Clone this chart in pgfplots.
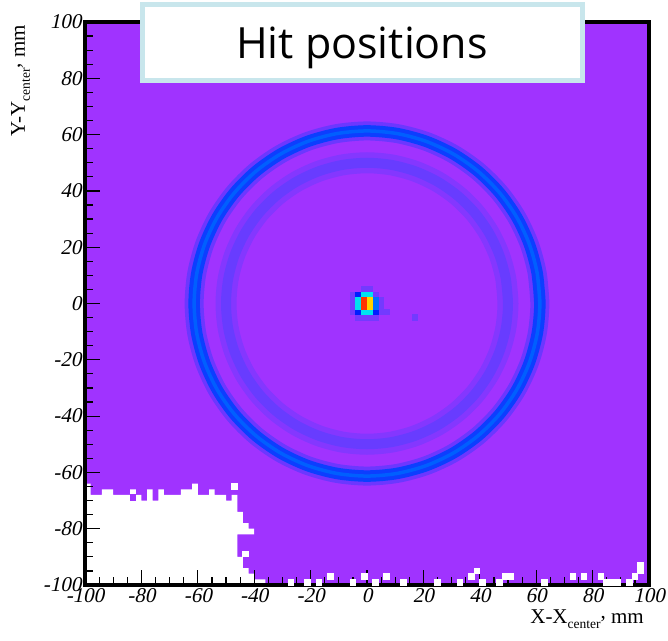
\documentclass[border=0pt]{standalone}
\usepackage{fontspec}
\setmainfont{Liberation Serif}
\newfontface\tickit{Liberation Serif}[FakeSlant=0.21]
\newfontfamily\titlefont{Open Sans}
\usepackage{pgfplots}
\usepackage{pgfplotstable}
\pgfplotsset{compat=1.18}
\definecolor{bgp}{RGB}{160,51,255}
\definecolor{ohalo}{RGB}{108,55,255}
\definecolor{ocore}{RGB}{12,62,255}
\definecolor{oline}{RGB}{0,95,255}
\definecolor{ihalo}{RGB}{132,55,255}
\definecolor{icore}{RGB}{104,60,255}
\definecolor{boxb}{RGB}{200,230,236}
\definecolor{sred}{RGB}{255,50,0}
\definecolor{syel}{RGB}{255,210,0}
\definecolor{scyan}{RGB}{0,225,240}
\definecolor{smid}{RGB}{0,110,255}
\definecolor{sdark}{RGB}{0,30,255}
\definecolor{sfaint}{RGB}{115,58,255}

\pgfplotstableread{
x y
61.30 0
60.37 10.64
57.60 20.97
53.09 30.65
46.96 39.40
39.40 46.96
30.65 53.09
20.97 57.60
10.64 60.37
0 61.30
-10.64 60.37
-20.97 57.60
-30.65 53.09
-39.40 46.96
-46.96 39.40
-53.09 30.65
-57.60 20.97
-60.37 10.64
-61.30 0
-60.37 -10.64
-57.60 -20.97
-53.09 -30.65
-46.96 -39.40
-39.40 -46.96
-30.65 -53.09
-20.97 -57.60
-10.64 -60.37
0 -61.30
10.64 -60.37
20.97 -57.60
30.65 -53.09
39.40 -46.96
46.96 -39.40
53.09 -30.65
57.60 -20.97
60.37 -10.64
61.30 0
60.37 10.64
}\outerring

\pgfplotstableread{
x y
50 0
49.24 8.68
46.98 17.10
43.30 25.00
38.30 32.14
32.14 38.30
25.00 43.30
17.10 46.98
8.68 49.24
0 50
-8.68 49.24
-17.10 46.98
-25.00 43.30
-32.14 38.30
-38.30 32.14
-43.30 25.00
-46.98 17.10
-49.24 8.68
-50 0
-49.24 -8.68
-46.98 -17.10
-43.30 -25.00
-38.30 -32.14
-32.14 -38.30
-25.00 -43.30
-17.10 -46.98
-8.68 -49.24
0 -50
8.68 -49.24
17.10 -46.98
25.00 -43.30
32.14 -38.30
38.30 -32.14
43.30 -25.00
46.98 -17.10
49.24 -8.68
50 0
49.24 8.68
}\innerring

\pgfplotstableread{
x y
-100 -100
-100 -64
-98 -64
-98 -68
-94 -68
-94 -66
-90 -66
-90 -68
-84 -68
-84 -66
-82 -66
-82 -68
-80 -68
-80 -70
-78 -70
-78 -66
-76 -66
-76 -70
-74 -70
-74 -66
-72 -66
-72 -68
-66 -68
-66 -66
-62 -66
-62 -64
-60 -64
-60 -68
-56 -68
-56 -66
-54 -66
-54 -68
-50 -68
-50 -70
-48 -70
-48 -68
-46 -68
-46 -74
-44 -74
-44 -78
-42 -78
-42 -80
-40 -80
-40 -82
-46 -82
-46 -90
-44 -90
-44 -94
-42 -94
-42 -96
-40 -96
-40 -98
-36 -98
-36 -100
-100 -100
}\whitereg

\pgfplotstableread{
x y
-47 -65
-43 -89
-27 -99
-21 -99
-17 -99
-13 -97
-5 -99
-1 -97
3 -99
7 -97
13 -99
25 -99
33 -99
37 -97
39 -95
41 -99
47 -99
49 -97
51 -97
63 -99
73 -97
77 -97
83 -97
85 -99
87 -99
89 -99
93 -99
95 -97
97 -93
97 -95
}\whitebins

\begin{document}
\begin{tikzpicture}
\begin{axis}[
  name=ax,
  scale only axis,
  width=564pt, height=563pt,
  xmin=-100, xmax=100, ymin=-100, ymax=100,
  axis background/.style={fill=bgp},
  axis on top,
  axis line style={line width=3.5pt, black},
  tick style={black, line width=1.2pt},
  major tick length=15pt,
  minor tick length=8pt,
  tick align=inside,
  xtick pos=bottom, ytick pos=left,
  xtick={-100,-80,...,100}, ytick={-100,-80,...,100},
  minor tick num=3,
  xticklabels={-100,-80,-60,-40,-20,0,20,40,60,80,100},
  yticklabels={-100,-80,-60,-40,-20,0,20,40,60,80,100},
  tick label style={font=\tickit\fontsize{21}{21}\selectfont},
  bin/.style={only marks, mark=square*, mark size=2.82pt, mark options={line width=0pt}},
]
% inner ring
\addplot[draw=ihalo, line width=21pt, smooth] table {\innerring};
\addplot[draw=icore, line width=10pt, smooth] table {\innerring};
% outer ring
\addplot[draw=ohalo, line width=19pt, smooth] table {\outerring};
\addplot[draw=ocore, line width=11.5pt, smooth] table {\outerring};
\addplot[draw=oline, line width=3.5pt, smooth] table {\outerring};
% empty region
\addplot[fill=white, draw=none] table {\whitereg};
\addplot[bin, color=white] table {\whitebins};
\addplot[bin, color=bgp] coordinates {(-83,-69)};
% central spot
\addplot[bin, color=sfaint] coordinates {(-5,3) (-5,1) (-5,-1) (-5,-3) (-1,5) (1,5) (5,1) (5,-1) (5,-3) (3,3) (-3,-5) (-1,-5) (1,-5) (3,-5) (7,-3) (17,-5)};
\addplot[bin, color=sdark] coordinates {(-3,3) (-3,-3) (3,-3)};
\addplot[bin, color=smid] coordinates {(3,1) (3,-1)};
\addplot[bin, color=scyan] coordinates {(-3,1) (-3,-1) (-1,3) (1,3) (-1,-3) (1,-3)};
\addplot[bin, color=sred] coordinates {(-1,1) (-1,-1)};
\addplot[bin, color=syel] coordinates {(1,1) (1,-1)};
\end{axis}
% title box
\node[draw=boxb, line width=5pt, fill=white, minimum width=440pt, minimum height=76.6pt, inner sep=0pt]
  at ([xshift=-4.2pt, yshift=-20.5pt]ax.north) {};
\node[anchor=base, inner sep=0pt, font=\titlefont\fontsize{43}{43}\selectfont]
  at ([xshift=-5pt, yshift=-36.3pt]ax.north) {Hit positions};
% axis titles
\node[anchor=base east, inner sep=0pt, font=\fontsize{21}{21}\selectfont]
  at ([xshift=-5pt, yshift=-38pt]ax.south east)
  {X-X\raisebox{-5pt}{\fontsize{13.5}{13.5}\selectfont center}\raisebox{5pt}{,} mm};
\node[rotate=90, anchor=base east, inner sep=0pt, font=\fontsize{21}{21}\selectfont]
  at ([xshift=-60pt, yshift=-3pt]ax.north west)
  {Y-Y\raisebox{-5pt}{\fontsize{13.5}{13.5}\selectfont center}\raisebox{5pt}{,} mm};
\pgfresetboundingbox
\path[use as bounding box] ([shift={(-85pt,-55pt)}]ax.south west) rectangle ([shift={(19pt,22pt)}]ax.north east);
\end{tikzpicture}
\end{document}
